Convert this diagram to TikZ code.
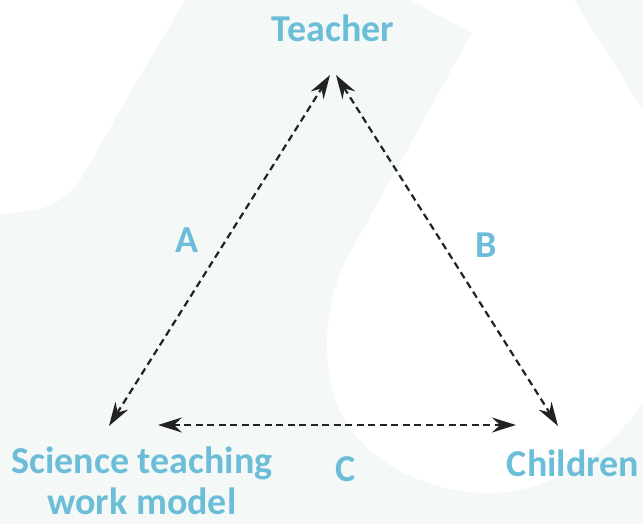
\documentclass[tikz,border=0pt]{standalone}
\usepackage{fontspec}
\setmainfont{Carlito}
\usetikzlibrary{arrows.meta}
\definecolor{labelblue}{RGB}{108,190,216}
\definecolor{bgtint}{RGB}{244,248,247}
\definecolor{linkgrey}{RGB}{34,34,34}

\begin{document}
\begin{tikzpicture}[x=1pt,y=-1pt,
    lbl/.style={text=labelblue,inner sep=0pt,anchor=base,
        font=\bfseries\fontsize{38}{41}\selectfont},
    link/.style={linkgrey,line width=2.2pt,dash pattern=on 7pt off 4.5pt,
        {Stealth[length=24pt,width=15pt,inset=8pt]}-{Stealth[length=24pt,width=15pt,inset=8pt]}}]
    % background: pale tint with two white patches
    \fill[bgtint] (0,0) rectangle (643,524);
    \fill[white] (0,0) -- (185,0) -- (135,84) -- (82,177)
        .. controls (65,205) and (40,212) .. (0,214) -- cycle;
    \fill[white] (410,0) -- (472,33) -- (345,262)
        .. controls (318,320) and (320,400) .. (360,440)
        .. controls (400,485) and (470,500) .. (520,490)
        .. controls (580,475) and (620,440) .. (643,400)
        -- (643,110) -- (574,0) -- cycle;

    % corners
    \node[lbl] (teacher) at (333,42) {Teacher};
    \node[lbl,align=center] (model) at (142,514) {Science teaching\\work model};
    \node[lbl] (children) at (573,476) {Children};

    % arrow ends
    \coordinate (tl) at (330,75);
    \coordinate (tr) at (336,75);
    \coordinate (mt) at (109,426);
    \coordinate (mr) at (158,425);
    \coordinate (ct) at (558,426);
    \coordinate (cl) at (516,425);

    \foreach \a/\b in {mt/tl, tr/ct, mr/cl} \draw[link] (\a) -- (\b);

    % edge labels
    \node[lbl] (labA) at (187,252) {A};
    \node[lbl] (labB) at (486,258) {B};
    \node[lbl] (labC) at (346,481) {C};
\end{tikzpicture}
\end{document}
